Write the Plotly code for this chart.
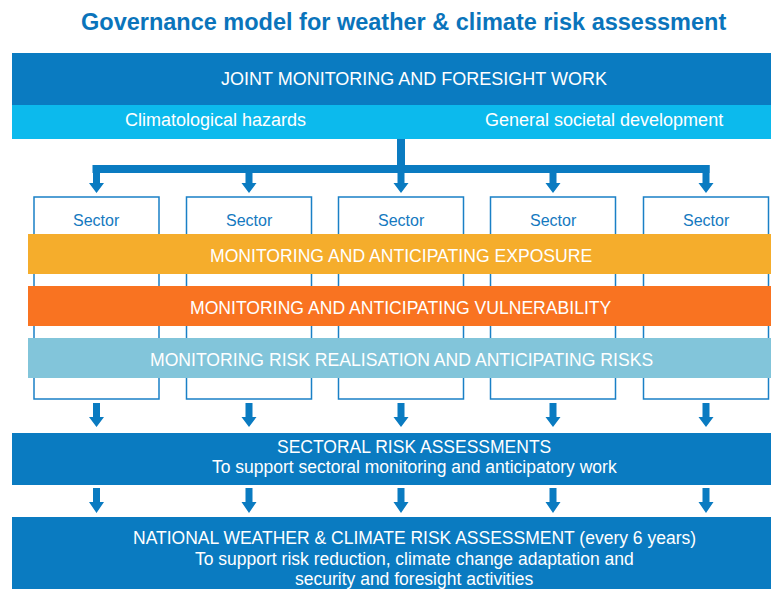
import plotly.graph_objects as go

W, H = 779, 589
OFF = 8  # default page body margin

title = "Governance model for weather & climate risk assessment"
top_label = "JOINT MONITORING AND FORESIGHT WORK"
sub_labels = ["Climatological hazards", "General societal development"]
sector_names = ["Sector", "Sector", "Sector", "Sector", "Sector"]
band_labels = ["MONITORING AND ANTICIPATING EXPOSURE",
               "MONITORING AND ANTICIPATING VULNERABILITY",
               "MONITORING RISK REALISATION AND ANTICIPATING RISKS"]
band_colors = ["#f5ad2c", "#f97321", "#82c5da"]
sectoral_lines = ["SECTORAL RISK ASSESSMENTS",
                  "To support sectoral monitoring and anticipatory work"]
national_lines = ["NATIONAL WEATHER & CLIMATE RISK ASSESSMENT (every 6 years)",
                  "To support risk reduction, climate change adaptation and",
                  "security and foresight activities"]

BLUE = "#0a7bc1"
CYAN = "#0cbaed"
TITLE_BLUE = "#0a74bb"
REG = "Liberation Sans, Arial, sans-serif"

col_x = [96.5, 249, 401, 553, 706]
box_w = 125

shapes = []
ann = []

def rect(x0, y0, x1, y1, fill, line=None, lw=0):
    shapes.append(dict(type="rect", xref="x", yref="y", x0=x0, y0=y0, x1=x1, y1=y1,
                       fillcolor=fill, line=dict(color=line or fill, width=lw), layer="below"))

def text(x, y, s, size, color="white", family=REG, bold=False):
    if bold:
        s = "<b>" + s + "</b>"
    ann.append(dict(x=x, y=y, xref="x", yref="y", text=s, showarrow=False,
                    font=dict(size=size, color=color, family=family),
                    xanchor="center", yanchor="middle"))

def arrow(cx, y0, yh, y1, sw=3.5, hw=7.5):
    p = (f"M{cx-sw},{y0} L{cx+sw},{y0} L{cx+sw},{yh} L{cx+hw},{yh} "
         f"L{cx},{y1} L{cx-hw},{yh} L{cx-sw},{yh} Z")
    shapes.append(dict(type="path", xref="x", yref="y", path=p,
                       fillcolor=BLUE, line=dict(width=0)))

# title
text(403, 22, title, 23.5, TITLE_BLUE, REG, bold=True)

# top boxes
rect(12, 53, W + 20, 105, BLUE)
text(414, 79, top_label, 18)
rect(12, 105, W + 20, 139, CYAN)
text(215, 120, sub_labels[0], 18)
text(604, 120, sub_labels[1], 18)

# connector
rect(397, 139, 405, 173, BLUE)
rect(92.5, 165, 709.5, 173, BLUE)
for cx in col_x:
    arrow(cx, 165, 183, 193)

# sector boxes
for cx, name in zip(col_x, sector_names):
    shapes.append(dict(type="rect", xref="x", yref="y", x0=cx - box_w / 2, x1=cx + box_w / 2,
                       y0=197, y1=399, fillcolor="white",
                       line=dict(color="#1a80c6", width=1.5), layer="below"))
    text(cx, 220, name, 16, "#1479c0", REG)

# bands
band_y = [(234, 274), (286, 326), (338, 378)]
for (y0, y1), lab, col in zip(band_y, band_labels, band_colors):
    shapes.append(dict(type="rect", xref="x", yref="y", x0=28, x1=778, y0=y0, y1=y1,
                       fillcolor=col, line=dict(width=0)))
    text(401, (y0 + y1) / 2 + 1.5, lab, 17.6, "white", REG)

# arrows to sectoral
for cx in col_x:
    arrow(cx, 403, 417, 427, sw=3.5, hw=7.5)

rect(12, 433, W + 20, 485, BLUE)
text(414, 447, sectoral_lines[0], 17.5)
text(414, 467, sectoral_lines[1], 17.5)

for cx in col_x:
    arrow(cx, 488, 502, 513, sw=3.5, hw=7.5)

rect(12, 517, W + 20, H + 20, BLUE)
for i, line in enumerate(national_lines):
    text(414, 538 + 20.5 * i, line, 17.5)

fig = go.Figure()
fig.add_trace(go.Scatter(x=[0, W], y=[0, H], mode="markers",
                         marker=dict(opacity=0), hoverinfo="skip", showlegend=False))
fig.update_layout(
    width=W, height=H, margin=dict(l=0, r=0, t=0, b=0),
    paper_bgcolor="white", plot_bgcolor="white",
    xaxis=dict(range=[OFF, W + OFF], visible=False, fixedrange=True),
    yaxis=dict(range=[H + OFF, OFF], visible=False, fixedrange=True),
    shapes=shapes, annotations=ann, showlegend=False,
)
fig.write_html("out.html")
